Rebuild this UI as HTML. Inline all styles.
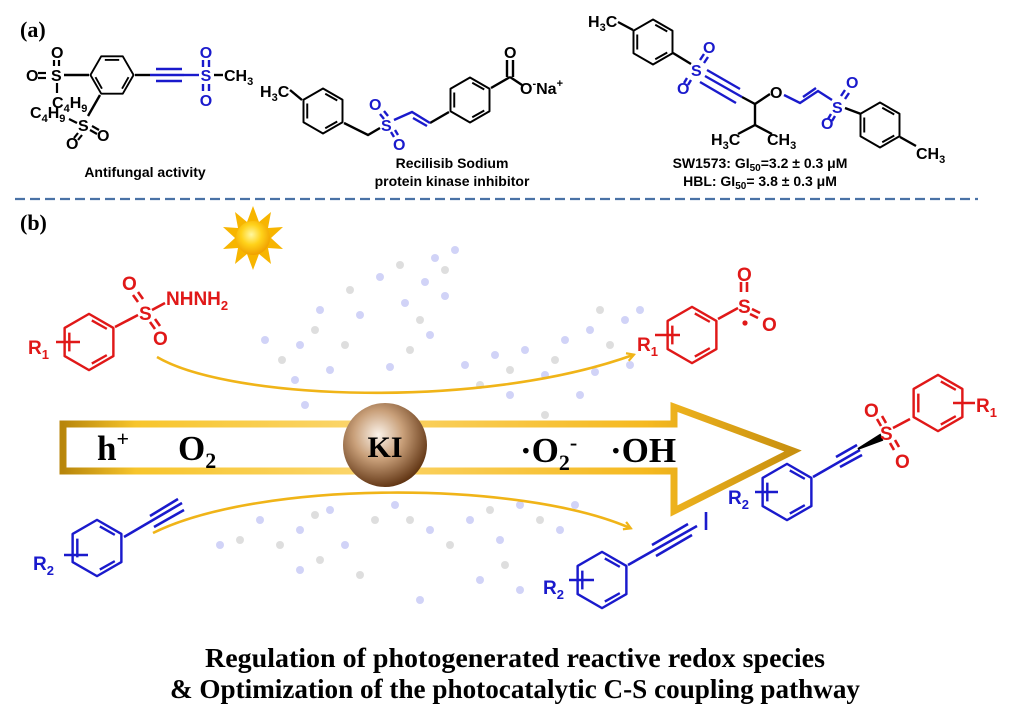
<!DOCTYPE html>
<html><head><meta charset="utf-8"><style>
html,body{margin:0;padding:0;background:#fff;}
svg{display:block;}
.s{font-family:"Liberation Sans",Arial,sans-serif;font-weight:bold;}
.t{font-family:"Liberation Serif","Times New Roman",serif;font-weight:bold;}
</style></head><body>
<svg width="1029" height="723" viewBox="0 0 1029 723" xmlns="http://www.w3.org/2000/svg">
<defs>
<symbol id="ring" viewBox="-32 -32 64 64" overflow="visible">
<polygon points="0,-30 26,-15 26,15 0,30 -26,15 -26,-15" fill="none" stroke="currentColor" stroke-width="2.6" stroke-linejoin="round"/>
<line x1="3" y1="-23" x2="19" y2="-14" stroke="currentColor" stroke-width="2.6"/>
<line x1="19" y1="14" x2="3" y2="23" stroke="currentColor" stroke-width="2.6"/>
<line x1="-21" y1="10" x2="-21" y2="-10" stroke="currentColor" stroke-width="2.6"/>
</symbol>
<linearGradient id="gold" x1="0" y1="0" x2="1" y2="0">
<stop offset="0" stop-color="#b8860b"/><stop offset="0.1" stop-color="#f7c52c"/><stop offset="0.4" stop-color="#fbd56a"/><stop offset="0.8" stop-color="#f5b920"/><stop offset="1" stop-color="#c89010"/>
</linearGradient>
<radialGradient id="ki" cx="0.42" cy="0.38" r="0.65">
<stop offset="0" stop-color="#fbf3ea"/><stop offset="0.45" stop-color="#c9a07a"/><stop offset="1" stop-color="#5c300f"/>
</radialGradient>
<radialGradient id="sun" cx="0.45" cy="0.4" r="0.6">
<stop offset="0" stop-color="#fff8a0"/><stop offset="0.5" stop-color="#ffd21a"/><stop offset="1" stop-color="#f0a000"/>
</radialGradient>
<marker id="ah" markerWidth="10" markerHeight="10" refX="7" refY="5" orient="auto" markerUnits="userSpaceOnUse">
<path d="M1,1 L8,5 L1,9" fill="none" stroke="#f0b418" stroke-width="2.2"/>
</marker>
</defs>

<!-- ===== (a) ===== -->
<text x="20" y="37" class="t" font-size="22">(a)</text>
<!-- molecule 1 -->
<g stroke="#000" stroke-width="2.4" fill="none">
<use href="#ring" x="89" y="52" width="46" height="46" transform="rotate(90 112 75)" style="color:#000"/>
<line x1="89" y1="75" x2="64" y2="75"/>
<line x1="100" y1="95" x2="88" y2="116"/>
<line x1="135" y1="75" x2="150" y2="75"/>
</g>
<g stroke="#1a1acc" stroke-width="2.4">
<line x1="150" y1="75" x2="184" y2="75"/><line x1="156" y1="69" x2="182" y2="69"/><line x1="156" y1="81" x2="182" y2="81"/>
<line x1="184" y1="75" x2="199" y2="75"/>
<line x1="203" y1="60" x2="203" y2="67"/><line x1="209" y1="60" x2="209" y2="67"/>
<line x1="203" y1="84" x2="203" y2="91"/><line x1="209" y1="84" x2="209" y2="91"/>
</g>
<line x1="214" y1="75" x2="223" y2="75" stroke="#000" stroke-width="2.4"/>
<g class="s" font-size="16" fill="#1a1acc" text-anchor="middle">
<text x="206" y="81">S</text><text x="206" y="58">O</text><text x="206" y="106">O</text>
</g>
<g class="s" font-size="16" fill="#000">
<text x="224" y="81">CH<tspan font-size="11" dy="4">3</tspan></text>
<text x="51" y="81">S</text><text x="26" y="81">O</text><text x="51" y="58">O</text>
<text x="52" y="108">C<tspan font-size="11" dy="4">4</tspan><tspan dy="-4">H</tspan><tspan font-size="11" dy="4">9</tspan></text>
<text x="30" y="118">C<tspan font-size="11" dy="4">4</tspan><tspan dy="-4">H</tspan><tspan font-size="11" dy="4">9</tspan></text>
<text x="78" y="131">S</text><text x="97" y="141">O</text><text x="66" y="149">O</text>
</g>
<g stroke="#000" stroke-width="2.2">
<line x1="38" y1="73" x2="46" y2="73"/><line x1="38" y1="78" x2="46" y2="78"/>
<line x1="54" y1="60" x2="54" y2="66"/><line x1="59" y1="60" x2="59" y2="66"/>
<line x1="57" y1="83" x2="57" y2="93"/>
<line x1="69" y1="119" x2="77" y2="123"/>
<line x1="92" y1="126" x2="99" y2="130"/><line x1="90" y1="130" x2="97" y2="134"/>
<line x1="78" y1="133" x2="74" y2="138"/><line x1="82" y1="135" x2="78" y2="140"/>
</g>
<text x="145" y="177" class="s" font-size="14" text-anchor="middle">Antifungal activity</text>

<!-- molecule 2 -->
<use href="#ring" x="299" y="87" width="48" height="48" style="color:#000"/>
<use href="#ring" x="446" y="76" width="48" height="48" style="color:#000"/>
<g stroke="#000" stroke-width="2.4" fill="none">
<line x1="302" y1="100" x2="290" y2="90"/>
<polyline points="344,123 368,135 380,128"/>
<line x1="430" y1="123" x2="449" y2="112"/>
<line x1="491" y1="88" x2="510" y2="77"/>
<line x1="507" y1="77" x2="507" y2="60"/><line x1="513" y1="77" x2="513" y2="60"/>
<line x1="510" y1="77" x2="522" y2="85"/>
</g>
<g stroke="#1a1acc" stroke-width="2.4" fill="none">
<polyline points="394,120 412,112 430,123"/>
<line x1="413" y1="118" x2="427" y2="126"/>
<line x1="380" y1="114" x2="384" y2="119"/><line x1="384" y1="111" x2="388" y2="116"/>
<line x1="391" y1="132" x2="394" y2="137"/><line x1="395" y1="130" x2="398" y2="135"/>
</g>
<g class="s" font-size="16">
<text x="260" y="97" fill="#000">H<tspan font-size="11" dy="4">3</tspan><tspan dy="-4">C</tspan></text>
<text x="381" y="131" fill="#1a1acc">S</text>
<text x="369" y="110" fill="#1a1acc">O</text>
<text x="393" y="150" fill="#1a1acc">O</text>
<text x="504" y="58" fill="#000">O</text>
<text x="520" y="94" fill="#000">O<tspan font-size="11" dy="-7">-</tspan><tspan dy="7">Na</tspan><tspan font-size="11" dy="-7">+</tspan></text>
</g>
<text x="452" y="168" class="s" font-size="14" text-anchor="middle">Recilisib Sodium</text>
<text x="452" y="186" class="s" font-size="14" text-anchor="middle">protein kinase inhibitor</text>

<!-- molecule 3 -->
<use href="#ring" x="629" y="18" width="48" height="48" style="color:#000"/>
<use href="#ring" x="856" y="101" width="48" height="48" style="color:#000"/>
<g stroke="#000" stroke-width="2.4" fill="none">
<line x1="633" y1="30" x2="618" y2="22"/>
<polyline points="742,97 755,104 770,94"/>
<line x1="755" y1="104" x2="755" y2="125"/>
<line x1="755" y1="125" x2="738" y2="134"/><line x1="755" y1="125" x2="772" y2="134"/>
<line x1="900" y1="137" x2="916" y2="146"/>
<line x1="673" y1="53" x2="691" y2="64"/>
<line x1="845" y1="108" x2="861" y2="114"/>
</g>
<g stroke="#1a1acc" stroke-width="2.4" fill="none">
<line x1="705" y1="76" x2="742" y2="97"/><line x1="707" y1="70" x2="740" y2="89"/><line x1="700" y1="82" x2="736" y2="103"/>
<polyline points="784,95 800,103 818,91 832,100"/>
<line x1="803" y1="97" x2="816" y2="88"/>
<line x1="700" y1="60" x2="704" y2="54"/><line x1="704" y1="63" x2="708" y2="57"/>
<line x1="687" y1="78" x2="684" y2="83"/><line x1="691" y1="80" x2="688" y2="85"/>
<line x1="841" y1="96" x2="845" y2="90"/><line x1="845" y1="99" x2="849" y2="93"/>
<line x1="831" y1="114" x2="828" y2="119"/><line x1="835" y1="116" x2="832" y2="121"/>
</g>
<g class="s" font-size="16">
<text x="588" y="27" fill="#000">H<tspan font-size="11" dy="4">3</tspan><tspan dy="-4">C</tspan></text>
<text x="691" y="76" fill="#1a1acc">S</text>
<text x="703" y="53" fill="#1a1acc">O</text>
<text x="677" y="94" fill="#1a1acc">O</text>
<text x="770" y="98" fill="#000">O</text>
<text x="832" y="113" fill="#1a1acc">S</text>
<text x="846" y="88" fill="#1a1acc">O</text>
<text x="821" y="129" fill="#1a1acc">O</text>
<text x="711" y="145" fill="#000">H<tspan font-size="11" dy="4">3</tspan><tspan dy="-4">C</tspan></text>
<text x="767" y="145" fill="#000">CH<tspan font-size="11" dy="4">3</tspan></text>
<text x="916" y="159" fill="#000">CH<tspan font-size="11" dy="4">3</tspan></text>
</g>
<text x="760" y="168" class="s" font-size="14" text-anchor="middle">SW1573: GI<tspan font-size="10" dy="3">50</tspan><tspan dy="-3">=3.2 ± 0.3 μM</tspan></text>
<text x="760" y="186" class="s" font-size="14" text-anchor="middle">HBL: GI<tspan font-size="10" dy="3">50</tspan><tspan dy="-3">= 3.8 ± 0.3 μM</tspan></text>

<line x1="15" y1="199" x2="978" y2="199" stroke="#4a72a6" stroke-width="2.2" stroke-dasharray="10,5"/>

<!-- ===== (b) ===== -->
<text x="20" y="230" class="t" font-size="22">(b)</text>

<!-- background network -->
<g opacity="0.45">
<g fill="#9aa0ee">
<circle cx="265" cy="340" r="4"/><circle cx="300" cy="345" r="4"/><circle cx="320" cy="310" r="4"/><circle cx="330" cy="370" r="4"/><circle cx="295" cy="380" r="4"/><circle cx="360" cy="315" r="4"/><circle cx="380" cy="277" r="4"/><circle cx="405" cy="303" r="4"/><circle cx="425" cy="282" r="4"/><circle cx="445" cy="296" r="4"/><circle cx="435" cy="258" r="4"/><circle cx="455" cy="250" r="4"/><circle cx="430" cy="335" r="4"/><circle cx="390" cy="367" r="4"/><circle cx="305" cy="405" r="4"/>
<circle cx="465" cy="365" r="4"/><circle cx="495" cy="355" r="4"/><circle cx="525" cy="350" r="4"/><circle cx="545" cy="375" r="4"/><circle cx="565" cy="340" r="4"/><circle cx="590" cy="330" r="4"/><circle cx="625" cy="320" r="4"/><circle cx="595" cy="372" r="4"/><circle cx="630" cy="365" r="4"/><circle cx="510" cy="395" r="4"/><circle cx="580" cy="395" r="4"/><circle cx="640" cy="310" r="4"/>
<circle cx="260" cy="520" r="4"/><circle cx="300" cy="530" r="4"/><circle cx="330" cy="510" r="4"/><circle cx="345" cy="545" r="4"/><circle cx="300" cy="570" r="4"/><circle cx="395" cy="505" r="4"/><circle cx="430" cy="530" r="4"/><circle cx="470" cy="520" r="4"/><circle cx="500" cy="540" r="4"/><circle cx="520" cy="505" r="4"/><circle cx="560" cy="530" r="4"/><circle cx="575" cy="505" r="4"/><circle cx="480" cy="580" r="4"/><circle cx="520" cy="590" r="4"/><circle cx="420" cy="600" r="4"/><circle cx="220" cy="545" r="4"/>
</g>
<g fill="#b8b8b8">
<circle cx="282" cy="360" r="4"/><circle cx="315" cy="330" r="4"/><circle cx="345" cy="345" r="4"/><circle cx="350" cy="290" r="4"/><circle cx="400" cy="265" r="4"/><circle cx="420" cy="320" r="4"/><circle cx="410" cy="350" r="4"/><circle cx="445" cy="270" r="4"/><circle cx="480" cy="385" r="4"/><circle cx="510" cy="370" r="4"/><circle cx="555" cy="360" r="4"/><circle cx="610" cy="345" r="4"/><circle cx="600" cy="310" r="4"/><circle cx="545" cy="415" r="4"/>
<circle cx="280" cy="545" r="4"/><circle cx="315" cy="515" r="4"/><circle cx="320" cy="560" r="4"/><circle cx="375" cy="520" r="4"/><circle cx="410" cy="520" r="4"/><circle cx="450" cy="545" r="4"/><circle cx="490" cy="510" r="4"/><circle cx="540" cy="520" r="4"/><circle cx="505" cy="565" r="4"/><circle cx="240" cy="540" r="4"/><circle cx="360" cy="575" r="4"/>
</g>
</g>

<!-- sun -->
<g transform="translate(253,238)">
<polygon points="0,-32 6,-16 18,-26 15,-10 30,-11 18,0 30,11 15,10 18,26 6,16 0,32 -6,16 -18,26 -15,10 -30,11 -18,0 -30,-11 -15,-10 -18,-26 -6,-16" fill="#f7b500"/>
<circle r="17" fill="url(#sun)"/>
</g>

<!-- curved arrows -->
<path d="M157,357 C230,400 480,410 633,355" fill="none" stroke="#f0b418" stroke-width="2.6" marker-end="url(#ah)"/>
<path d="M153,533 C260,480 520,480 630,528" fill="none" stroke="#f0b418" stroke-width="2.6" marker-end="url(#ah)"/>

<!-- big arrow -->
<path d="M63,424 L674,424 L674,407 L793,451 L674,511 L674,471 L63,471 Z" fill="none" stroke="url(#gold)" stroke-width="7" stroke-linejoin="miter"/>
<circle cx="385" cy="445" r="42" fill="url(#ki)"/>
<text x="385" y="457" class="t" font-size="30" text-anchor="middle">KI</text>
<g class="t" font-size="35">
<text x="97" y="460">h<tspan font-size="22" dy="-14">+</tspan></text>
<text x="178" y="460">O<tspan font-size="22" dy="8">2</tspan></text>
<text x="520" y="462">·O<tspan font-size="22" dy="8">2</tspan><tspan font-size="22" dy="-20">-</tspan></text>
<text x="610" y="462">·OH</text>
</g>

<!-- red sulfonyl hydrazide -->
<use href="#ring" x="59" y="312" width="60" height="60" transform="rotate(0)" style="color:#e01818"/>
<g stroke="#e01818" stroke-width="2.6">
<line x1="115" y1="327" x2="138" y2="315"/>
<line x1="152" y1="310" x2="165" y2="303"/>
<line x1="133" y1="295" x2="138" y2="302"/><line x1="138" y1="292" x2="143" y2="299"/>
<line x1="150" y1="322" x2="155" y2="329"/><line x1="155" y1="319" x2="160" y2="326"/>
<line x1="56" y1="342" x2="80" y2="342"/>
</g>
<g class="s" font-size="19" fill="#e01818">
<text x="139" y="320">S</text><text x="122" y="290">O</text><text x="153" y="345">O</text>
<text x="166" y="305">NHNH<tspan font-size="13" dy="5">2</tspan></text>
<text x="28" y="354">R<tspan font-size="13" dy="5">1</tspan></text>
</g>

<!-- blue alkyne -->
<use href="#ring" x="67" y="518" width="60" height="60" style="color:#1a1acc"/>
<g stroke="#1a1acc" stroke-width="2.6">
<line x1="124" y1="537" x2="182" y2="503"/><line x1="150" y1="516" x2="178" y2="499"/><line x1="154" y1="527" x2="184" y2="510"/>
<line x1="64" y1="555" x2="88" y2="555"/>
</g>
<text x="33" y="570" class="s" font-size="19" fill="#1a1acc">R<tspan font-size="13" dy="5">2</tspan></text>

<!-- red sulfonyl radical -->
<use href="#ring" x="662" y="305" width="60" height="60" style="color:#e01818"/>
<g stroke="#e01818" stroke-width="2.6">
<line x1="718" y1="319" x2="738" y2="308"/>
<line x1="741" y1="282" x2="741" y2="292"/><line x1="747" y1="282" x2="747" y2="292"/>
<line x1="752" y1="309" x2="760" y2="313"/><line x1="750" y1="314" x2="758" y2="318"/>
<line x1="655" y1="335" x2="680" y2="335"/>
</g>
<circle cx="745" cy="323" r="2.6" fill="#e01818"/>
<g class="s" font-size="19" fill="#e01818">
<text x="738" y="313">S</text><text x="737" y="281">O</text><text x="762" y="331">O</text>
<text x="637" y="351">R<tspan font-size="13" dy="5">1</tspan></text>
</g>

<!-- blue iodoalkyne -->
<use href="#ring" x="572" y="550" width="60" height="60" style="color:#1a1acc"/>
<g stroke="#1a1acc" stroke-width="2.6">
<line x1="628" y1="565" x2="697" y2="526"/><line x1="652" y1="545" x2="688" y2="524"/><line x1="656" y1="556" x2="692" y2="535"/>
<line x1="706" y1="512" x2="706" y2="530"/>
<line x1="569" y1="580" x2="594" y2="580"/>
</g>
<text x="543" y="594" class="s" font-size="19" fill="#1a1acc">R<tspan font-size="13" dy="5">2</tspan></text>

<!-- final product -->
<use href="#ring" x="757" y="462" width="60" height="60" style="color:#1a1acc"/>
<g stroke="#1a1acc" stroke-width="2.6">
<line x1="813" y1="477" x2="860" y2="450"/><line x1="836" y1="457" x2="857" y2="445"/><line x1="840" y1="467" x2="862" y2="455"/>
<line x1="755" y1="492" x2="778" y2="492"/>
</g>
<path d="M858,449 L880,435 L882,440 Z" fill="#000" stroke="#000" stroke-width="2"/>
<use href="#ring" x="908" y="373" width="60" height="60" style="color:#e01818"/>
<g stroke="#e01818" stroke-width="2.6">
<line x1="893" y1="428" x2="910" y2="419"/>
<line x1="877" y1="419" x2="881" y2="426"/><line x1="882" y1="416" x2="886" y2="423"/>
<line x1="890" y1="443" x2="894" y2="450"/><line x1="895" y1="440" x2="899" y2="447"/>
<line x1="953" y1="403" x2="975" y2="403"/>
</g>
<g class="s" font-size="19" fill="#e01818">
<text x="880" y="440">S</text><text x="864" y="417">O</text><text x="895" y="468">O</text>
<text x="976" y="412">R<tspan font-size="13" dy="5">1</tspan></text>
</g>
<text x="728" y="504" class="s" font-size="19" fill="#1a1acc">R<tspan font-size="13" dy="5">2</tspan></text>

<!-- bottom caption -->
<text x="515" y="667" class="t" font-size="27" text-anchor="middle" textLength="620" lengthAdjust="spacingAndGlyphs">Regulation of photogenerated reactive redox species</text>
<text x="515" y="698" class="t" font-size="27" text-anchor="middle" textLength="690" lengthAdjust="spacingAndGlyphs">&amp; Optimization of the photocatalytic C-S coupling pathway</text>
</svg>
</body></html>
